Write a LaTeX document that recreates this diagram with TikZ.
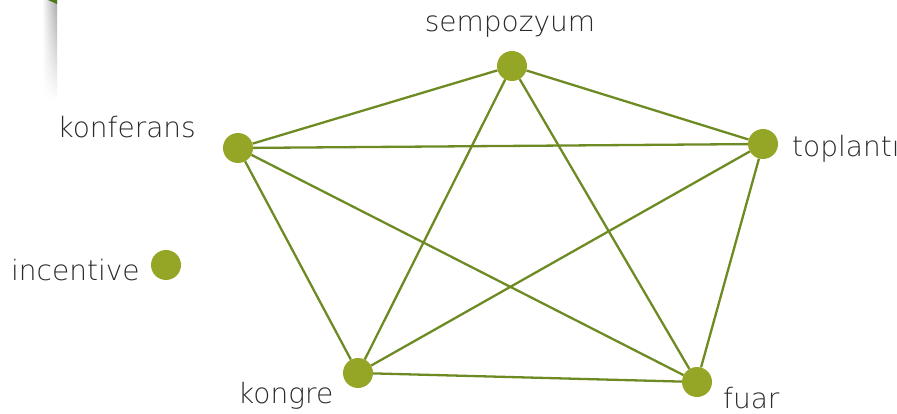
\documentclass[tikz,border=0pt]{standalone}
\usepackage{fontspec}
\setmainfont{DejaVu Sans ExtraLight}
\usepackage{tikz}
\usetikzlibrary{fadings}

\definecolor{olive}{HTML}{95A626}
\definecolor{edgegreen}{HTML}{6E8B23}
\definecolor{leafgreen}{HTML}{4A7A1A}
\definecolor{labelgray}{HTML}{2A2A2A}

\tikzfading[name=fade down, top color=transparent!0, bottom color=transparent!100]

\tikzset{
  dot/.style={circle, fill=olive, inner sep=0pt, minimum size=30pt},
  lbl/.style={text=labelgray, font=\fontsize{28}{30}\selectfont, inner sep=0pt},
  link/.style={draw=edgegreen, line width=2.3pt}
}

\begin{document}
\begin{tikzpicture}[x=1pt, y=-1pt]
\useasboundingbox (0,0) rectangle (897,414);
% shadow in the corner
\shade[left color=white, right color=black!35, path fading=fade down] (42,0) rectangle (57,100);
\fill[leafgreen] (48,0) -- (57,0) -- (57,4) -- cycle;

\node[dot] (semp) at (512,66) {};
\node[dot] (konf) at (238,148) {};
\node[dot] (topl) at (763,144) {};
\node[dot] (kong) at (358,373) {};
\node[dot] (fuar) at (697,382) {};
\node[dot] (inct) at (166,265) {};

\draw[link] (semp) -- (konf);
\draw[link] (semp) -- (topl);
\draw[link] (semp) -- (kong);
\draw[link] (semp) -- (fuar);
\draw[link] (konf) -- (topl);
\draw[link] (konf) -- (kong);
\draw[link] (konf) -- (fuar);
\draw[link] (topl) -- (kong);
\draw[link] (topl) -- (fuar);
\draw[link] (kong) -- (fuar);

\node[lbl, anchor=base] (sempt) at (510,32) {sempozyum};
\node[lbl, anchor=base east] (konft) at (196,138) {konferans};
\node[lbl, anchor=base west] (toplt) at (792,157) {toplantı};
\node[lbl, anchor=base west] (kongt) at (238,403) {kongre};
\node[lbl, anchor=base west] (fuart) at (723,408) {fuar};
\node[lbl, anchor=base west] (inctt) at (11,280) {incentive};
\end{tikzpicture}
\end{document}
